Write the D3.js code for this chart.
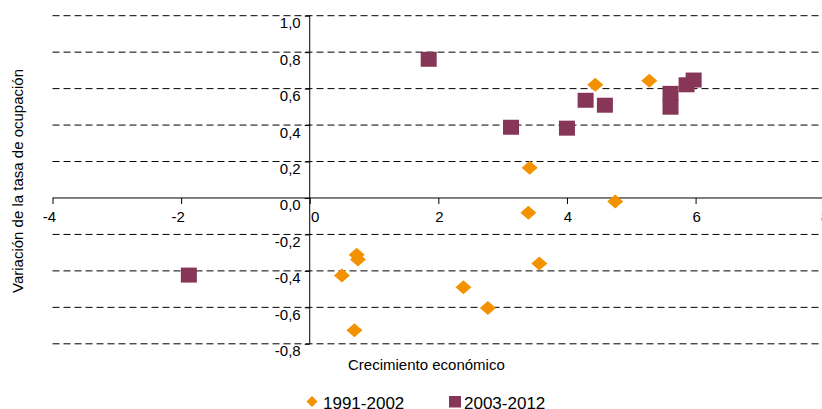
<!DOCTYPE html>
<html>
<head>
<meta charset="utf-8">
<script src="https://cdn.jsdelivr.net/npm/d3@7"></script>
<style>
  html, body { margin: 0; padding: 0; background: #fff; }
  svg { display: block; font-family: "Liberation Sans", Arial, sans-serif; }
</style>
</head>
<body>
<svg id="chart" width="822" height="409"></svg>
<script>
// ---- data ----
const series1Name = "1991-2002";
const series1X = [4.44, 5.28, 3.42, 4.75, 3.40, 3.57, 2.39, 2.77, 0.73, 0.75, 0.50, 0.695];
const series1Y = [0.621, 0.643, 0.166, -0.020, -0.081, -0.360, -0.490, -0.603, -0.311, -0.338, -0.425, -0.726];

const series2Name = "2003-2012";
const series2X = [1.85, 3.13, 4.00, 4.29, 4.59, 5.61, 5.61, 5.86, 5.97, -1.88];
const series2Y = [0.761, 0.388, 0.383, 0.536, 0.509, 0.574, 0.498, 0.621, 0.647, -0.423];

const xTicks = [-4, -2, 0, 2, 4, 6, 8];
const yTicks = [1.0, 0.8, 0.6, 0.4, 0.2, 0.0, -0.2, -0.4, -0.6, -0.8];
const xTitle = "Crecimiento económico";
const yTitle = "Variación de la tasa de ocupación";

// ---- layout ----
const svg = d3.select("#chart");
const orange = "#F39200";
const maroon = "#873658";

const x = d3.scaleLinear().domain([-4, 8]).range([52.5, 824.2]);
const y = d3.scaleLinear().domain([-0.8, 1.0]).range([343.8, 15.7]);
const fmt = v => d3.format(".1f")(v).replace(".", ",").replace("−", "-");

// gridlines
svg.append("g").selectAll("line")
  .data(yTicks.filter(v => v !== 0))
  .join("line")
  .attr("x1", x(-4)).attr("x2", 822)
  .attr("y1", d => y(d)).attr("y2", d => y(d))
  .attr("stroke", "#000").attr("stroke-width", 1)
  .attr("stroke-dasharray", "7,4");

// y axis
const yAxis = d3.axisLeft(y).tickValues(yTicks).tickSize(5).tickFormat("");
const gy = svg.append("g").attr("transform", `translate(${x(0)},0)`).call(yAxis);
gy.select(".domain").attr("stroke", "#000").attr("d", `M0,${y(1.0)}V${y(-0.8)}`);
gy.selectAll(".tick line").attr("stroke", "#000");

svg.append("g").selectAll("text")
  .data(yTicks)
  .join("text")
  .attr("x", x(0) - 9)
  .attr("y", d => y(d) + 12.5)
  .attr("text-anchor", "end")
  .attr("font-size", 15)
  .attr("fill", "#000")
  .text(d => fmt(d));

// x axis
const xAxis = d3.axisBottom(x).tickValues(xTicks).tickSize(6).tickFormat("");
const gx = svg.append("g").attr("transform", `translate(0,${y(0)})`).call(xAxis);
gx.select(".domain").attr("stroke", "#000").attr("d", `M${x(-4)},0H822`);
gx.selectAll(".tick line").attr("stroke", "#000");

svg.append("g").selectAll("text")
  .data(xTicks)
  .join("text")
  .attr("x", d => x(d) + (d === 0 ? 5.5 : d < 0 ? -3 : 1))
  .attr("y", y(0) + 24)
  .attr("text-anchor", "middle")
  .attr("font-size", 15)
  .attr("fill", "#000")
  .text(d => d);

// axis titles
svg.append("text")
  .attr("x", 348).attr("y", 370)
  .attr("font-size", 15).attr("fill", "#000")
  .text(xTitle);

svg.append("text")
  .attr("transform", "translate(23,181) rotate(-90)")
  .attr("text-anchor", "middle")
  .attr("font-size", 15).attr("fill", "#000")
  .text(yTitle);

// points
const diamond = (w, h) => `M0,${-h/2}L${w/2},0L0,${h/2}L${-w/2},0Z`;

svg.append("g").selectAll("path")
  .data(series1X.map((v, i) => [v, series1Y[i]]))
  .join("path")
  .attr("transform", d => `translate(${x(d[0])},${y(d[1])})`)
  .attr("d", diamond(16, 14))
  .attr("fill", orange);

svg.append("g").selectAll("rect")
  .data(series2X.map((v, i) => [v, series2Y[i]]))
  .join("rect")
  .attr("x", d => x(d[0]) - 8)
  .attr("y", d => y(d[1]) - 7.5)
  .attr("width", 16).attr("height", 15)
  .attr("fill", maroon);

// legend
const lg = svg.append("g");
lg.append("path").attr("transform", "translate(312,401.5)").attr("d", diamond(11, 11)).attr("fill", orange);
lg.append("text").attr("x", 323).attr("y", 408.5).attr("font-size", 17).attr("fill", "#000").text(series1Name);
lg.append("rect").attr("x", 449).attr("y", 396).attr("width", 12).attr("height", 11.5).attr("fill", maroon);
lg.append("text").attr("x", 464).attr("y", 408.5).attr("font-size", 17).attr("fill", "#000").text(series2Name);
</script>
</body>
</html>
